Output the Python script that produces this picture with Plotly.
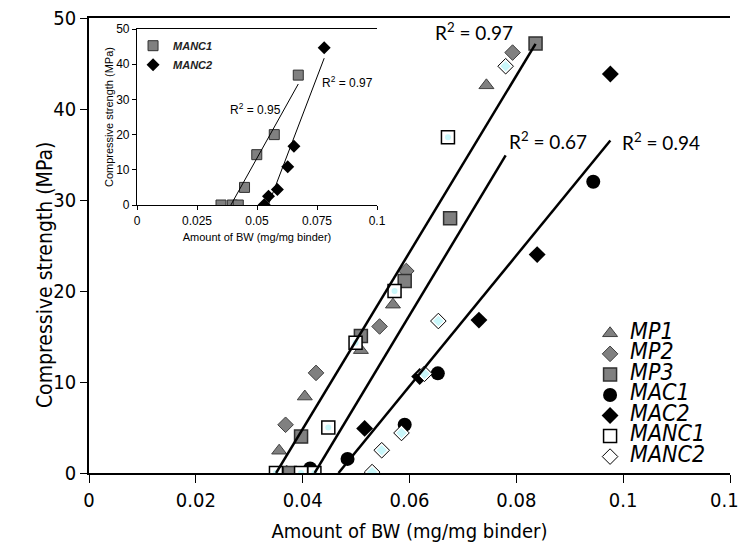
import numpy as np
import plotly.graph_objects as go

# ---------------- data ----------------
series_names = ["MP1", "MP2", "MP3", "MAC1", "MAC2", "MANC1", "MANC2"]

mp1_x = [0.0356, 0.0404, 0.0509, 0.0569, 0.0744]
mp1_y = [2.45, 8.4, 13.5, 18.5, 42.6]
mp2_x = [0.0370, 0.0368, 0.0425, 0.0544, 0.0594, 0.0793]
mp2_y = [0.0, 5.3, 11.0, 16.1, 22.2, 46.2]
mp3_x = [0.0376, 0.0397, 0.0509, 0.0591, 0.0676, 0.0836]
mp3_y = [0.0, 4.0, 15.05, 21.1, 28.0, 47.2]
mac1_x = [0.0414, 0.0484, 0.0591, 0.0653, 0.0944]
mac1_y = [0.5, 1.55, 5.3, 10.95, 32.0]
mac2_x = [0.0516, 0.0619, 0.0730, 0.0839, 0.0976]
mac2_y = [4.9, 10.6, 16.8, 24.0, 43.85]
manc1_x = [0.0350, 0.0397, 0.0422, 0.0448, 0.0499, 0.0572, 0.0672]
manc1_y = [0.0, 0.0, 0.0, 5.0, 14.3, 20.0, 36.9]
manc2_x = [0.0530, 0.0548, 0.0585, 0.0628, 0.0654, 0.0780]
manc2_y = [0.1, 2.5, 4.4, 10.9, 16.7, 44.7]

r2_main = ["0.97", "0.67", "0.94"]      # MP group, MANC group, MAC group
r2_inset = ["0.95", "0.97"]             # MANC1, MANC2

x_ticks_main = [0, 0.02, 0.04, 0.06, 0.08, 0.1, 0.12]
x_ticks_inset = [0, 0.025, 0.05, 0.075, 0.1]

NARROW = "Liberation Sans Narrow, Arial Narrow, DejaVu Sans Condensed, sans-serif"
ARIAL = "Liberation Sans, Arial, sans-serif"
GREY = "#808080"
CYAN = "#c9f7fa"


def fit_line(xs, ys):
    xs = np.asarray(xs, float)
    ys = np.asarray(ys, float)
    m, b = np.polyfit(xs, ys, 1)
    x0 = -b / m
    x1 = xs.max()
    return [x0, x1], [0.0, m * x1 + b]


fig = go.Figure()

LEG_SIZE = 23


def lname(n):
    return f"<span style='font-size:{LEG_SIZE}px'>{n}</span>"


# ---------------- main scatter ----------------
fig.add_trace(go.Scatter(x=mp1_x, y=mp1_y, mode="markers", name=lname(series_names[0]),
                         marker=dict(symbol="triangle-up", size=13, color=GREY,
                                     line=dict(color="#404040", width=1))))
fig.add_trace(go.Scatter(x=mp2_x, y=mp2_y, mode="markers", name=lname(series_names[1]),
                         marker=dict(symbol="diamond", size=12, color=GREY,
                                     line=dict(color="#404040", width=1))))
fig.add_trace(go.Scatter(x=mp3_x, y=mp3_y, mode="markers", name=lname(series_names[2]),
                         marker=dict(symbol="square", size=13, color=GREY,
                                     line=dict(color="#303030", width=1.5))))
fig.add_trace(go.Scatter(x=mac1_x, y=mac1_y, mode="markers", name=lname(series_names[3]),
                         marker=dict(symbol="circle", size=14, color="black")))
fig.add_trace(go.Scatter(x=mac2_x, y=mac2_y, mode="markers", name=lname(series_names[4]),
                         marker=dict(symbol="diamond", size=13, color="black")))
fig.add_trace(go.Scatter(x=manc1_x, y=manc1_y, mode="markers", name=lname(series_names[5]),
                         marker=dict(symbol="square", size=13, color="white",
                                     line=dict(color="black", width=1.5))))
fig.add_trace(go.Scatter(x=manc1_x, y=manc1_y, mode="markers", showlegend=False,
                         hoverinfo="skip",
                         marker=dict(symbol="circle", size=6, color=CYAN)))
fig.add_trace(go.Scatter(x=manc2_x, y=manc2_y, mode="markers", name=lname(series_names[6]),
                         marker=dict(symbol="diamond", size=12, color="white",
                                     line=dict(color="black", width=1))))
fig.add_trace(go.Scatter(x=manc2_x, y=manc2_y, mode="markers", showlegend=False,
                         hoverinfo="skip",
                         marker=dict(symbol="diamond", size=8, color=CYAN)))

# ---------------- main trend lines ----------------
groups = [
    (mp1_x + mp2_x + mp3_x, mp1_y + mp2_y + mp3_y),
    (manc1_x + manc2_x, manc1_y + manc2_y),
    (mac1_x + mac2_x, mac1_y + mac2_y),
]
for gx, gy in groups:
    lx, ly = fit_line(gx, gy)
    fig.add_trace(go.Scatter(x=lx, y=ly, mode="lines", showlegend=False,
                             hoverinfo="skip",
                             line=dict(color="black", width=2.5)))

# ---------------- inset ----------------
fig.add_trace(go.Scatter(x=manc1_x, y=manc1_y, mode="markers", name=series_names[5],
                         xaxis="x2", yaxis="y5", legend="legend2",
                         marker=dict(symbol="square", size=10, color=GREY,
                                     line=dict(color="#303030", width=1))))
fig.add_trace(go.Scatter(x=manc2_x, y=manc2_y, mode="markers", name=series_names[6],
                         xaxis="x2", yaxis="y5", legend="legend2",
                         marker=dict(symbol="diamond", size=10, color="black")))
for gx, gy in [(manc1_x, manc1_y), (manc2_x, manc2_y)]:
    lx, ly = fit_line(gx, gy)
    fig.add_trace(go.Scatter(x=lx, y=ly, mode="lines", showlegend=False,
                             xaxis="x2", yaxis="y5", hoverinfo="skip",
                             line=dict(color="black", width=1)))

# ---------------- annotations ----------------
ann = []
for txt, (ax, ay) in zip(r2_main, [(0.0721, 48.5), (0.0859, 36.5), (0.1071, 36.4)]):
    ann.append(dict(x=ax, y=ay, xref="x", yref="y", text=f"R<sup>2</sup> = {txt}",
                    showarrow=False, font=dict(family="Lato, sans-serif", size=19, color="black")))
for txt, (ax, ay) in zip(r2_inset, [(0.0492, 27.3), (0.0879, 34.9)]):
    ann.append(dict(x=ax, y=ay, xref="x2", yref="y5", text=f"R<sup>2</sup> = {txt}",
                    showarrow=False, font=dict(family=ARIAL, size=12, color="black")))
# main y-axis title (placed as in the reference, below the axis centre)
ann.append(dict(x=-0.0686, y=0.435, xref="paper", yref="paper", textangle=-90,
                text="Compressive strength (MPa)", showarrow=False,
                xanchor="center", yanchor="middle",
                font=dict(family=NARROW, size=21, color="black")))

axis_common = dict(showgrid=False, zeroline=False, linecolor="black", tickcolor="black",
                   automargin=False)

fig.update_layout(
    width=746, height=555,
    margin=dict(l=81, r=24, t=10, b=90, autoexpand=False),
    paper_bgcolor="white", plot_bgcolor="white",
    font=dict(family=NARROW, color="black"),
    annotations=ann,
    xaxis=dict(domain=[0, 1], range=[0, 0.12], tickmode="array", tickvals=x_ticks_main,
               ticktext=[f"{v:g}" for v in x_ticks_main], ticklabeloverflow="allow",
               ticks="outside", ticklen=8, tickwidth=1.2, showline=True, linewidth=1.5,
               mirror=True, tickfont=dict(size=20, family=NARROW),
               title=dict(text="Amount of BW (mg/mg binder)", font=dict(size=20, family=NARROW),
                          standoff=13),
               anchor="y", **axis_common),
    yaxis=dict(domain=[0, 1], range=[0, 50], dtick=10, ticks="outside", ticklen=7,
               tickwidth=1.2, showline=True, linewidth=1.5, ticklabeloverflow="allow",
               tickfont=dict(size=20, family=NARROW),
               anchor="x", **axis_common),
    yaxis3=dict(overlaying="y", anchor="x", range=[0, 50], dtick=10, ticks="inside",
                ticklen=7, tickwidth=1.2, showticklabels=False, showline=False, **axis_common),
    yaxis2=dict(overlaying="y", side="right", anchor="x", range=[0, 7420], dtick=1000,
                ticks="outside", ticklen=7, tickwidth=1.2, showticklabels=False,
                showline=True, linewidth=1.5, **axis_common),
    yaxis4=dict(overlaying="y", side="right", anchor="x", range=[0, 7420], dtick=1000,
                ticks="inside", ticklen=7, tickwidth=1.2, showticklabels=False,
                showline=False, **axis_common),
    # inset
    xaxis2=dict(domain=[0.0749, 0.4493], range=[0, 0.1], tickmode="array",
                tickvals=x_ticks_inset, ticktext=[f"{v:g}" for v in x_ticks_inset],
                ticks="outside", ticklen=4, showline=True, linewidth=1.2, mirror=True,
                tickfont=dict(size=12, family=ARIAL),
                title=dict(text="Amount of BW (mg/mg binder)", font=dict(size=11, family=ARIAL),
                           standoff=6),
                anchor="y5", **axis_common),
    yaxis5=dict(domain=[0.589, 0.9758], range=[0, 50], dtick=10, ticks="outside", ticklen=4,
                showline=True, linewidth=1.2, tickfont=dict(size=12, family=ARIAL),
                title=dict(text="Compressive strength (MPa)", font=dict(size=11, family=ARIAL),
                           standoff=0),
                anchor="x2", **axis_common),
    yaxis6=dict(overlaying="y5", side="right", anchor="x2", range=[0, 7420], dtick=1000,
                ticks="outside", ticklen=4, showline=True, linewidth=1.2,
                tickfont=dict(size=12, family=ARIAL),
                title=dict(text="Compressive strength (psi)", font=dict(size=11, family=ARIAL),
                           standoff=2),
                **axis_common),
    yaxis7=dict(overlaying="y5", side="right", anchor="x2", range=[0, 7420], dtick=1000,
                ticks="inside", ticklen=4, showticklabels=False, showline=False, **axis_common),
    legend=dict(x=0.7817, y=0.3406, xanchor="left", yanchor="top",
                bgcolor="rgba(0,0,0,0)", borderwidth=0,
                font=dict(size=13.5, family=NARROW, style="italic", color="black"),
                itemsizing="trace"),
    legend2=dict(x=0.0687, y=0.971, xanchor="left", yanchor="top",
                 bgcolor="rgba(0,0,0,0)", borderwidth=0,
                 font=dict(size=11, family=ARIAL, style="italic", weight="bold", color="#222"),
                 tracegroupgap=0),
)

fig.write_html("out.html")
